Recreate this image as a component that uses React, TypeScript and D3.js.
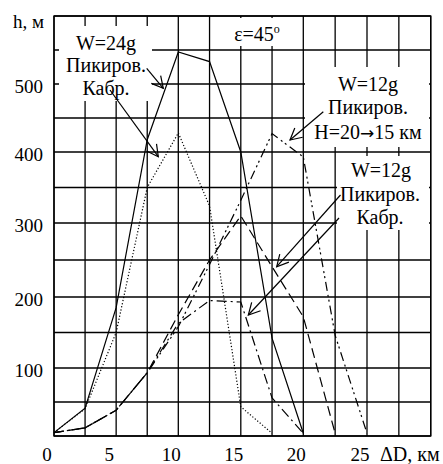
import React from 'react';
import * as d3 from 'd3';

// ΔD, km sample positions
const xSteps = [0, 2.5, 5, 7.5, 10, 12.5, 15, 17.5, 20, 22.5, 25];
// h, m
const w24Dive = [5, 41, 185, 418, 547, 533, 400, 142, 4];
const w24Pitch = [5, 40, 150, 350, 428, 324, 43, 4];
const w12Dive = [5, 12, 38, 93, 175, 250, 310, 241, 172, 4];
const w12Pitch = [5, 12, 38, 93, 163, 195, 193, 56, 4];
const w12DiveH = [5, 12, 38, 93, 158, 244, 332, 427, 393, 146, 4];

const xTicks = [0, 5, 10, 15, 20, 25];
const yTicks = [100, 200, 300, 400, 500];
const xGrid = d3.range(0, 30.001, 2.5);
const yGrid = d3.range(0, 600.001, 50);

const FONT = "'Liberation Serif', 'DejaVu Serif', serif";

export default function App() {
  const x = d3.scaleLinear().domain([0, 10, 20, 30]).range([54, 178.3, 303.3, 430.7]);
  const y = d3
    .scaleLinear()
    .domain([0, 100, 200, 300, 400, 500, 600])
    .range([436, 368, 297, 223, 152, 84, 16]);

  const line = d3
    .line<number>()
    .x((_, i) => x(xSteps[i]))
    .y((d) => y(d));

  const series = [
    { values: w24Dive, dash: undefined },
    { values: w24Pitch, dash: '1.2,2' },
    { values: w12Dive, dash: '10,5' },
    { values: w12Pitch, dash: '10,4,2,4' },
    { values: w12DiveH, dash: '9,4,2,3,2,4' },
  ];

  const boxes = [
    { x0: 59, y0: 26, x1: 152, y1: 101 },
    { x0: 226, y0: 18, x1: 292, y1: 46 },
    { x0: 305, y0: 67, x1: 429, y1: 147 },
    { x0: 337, y0: 156, x1: 429, y1: 230 },
  ];

  const arrows = [
    { x1: 146.7, y1: 68.3, x2: 163.3, y2: 88.3 },
    { x1: 110, y1: 90, x2: 158.3, y2: 156.7 },
    { x1: 323.3, y1: 111.7, x2: 290, y2: 140 },
    { x1: 340.5, y1: 195, x2: 276.7, y2: 266.7 },
    { x1: 339, y1: 218, x2: 248.3, y2: 315 },
  ];

  const labels = [
    { text: 'W=24g', x: 106, y: 50 },
    { text: 'Пикиров.', x: 106, y: 72 },
    { text: 'Кабр.', x: 106, y: 95 },
    { text: 'W=12g', x: 368, y: 91 },
    { text: 'Пикиров.', x: 368, y: 114 },
    { text: 'W=12g', x: 381, y: 177 },
    { text: 'Пикиров.', x: 380, y: 200.5 },
    { text: 'Кабр.', x: 380, y: 223.5 },
  ];

  const head = (a: { x1: number; y1: number; x2: number; y2: number }) => {
    const ang = Math.atan2(a.y1 - a.y2, a.x1 - a.x2);
    const L = 13;
    const s = (28 * Math.PI) / 180;
    const p1 = [a.x2 + L * Math.cos(ang + s), a.y2 + L * Math.sin(ang + s)];
    const p2 = [a.x2 + L * Math.cos(ang - s), a.y2 + L * Math.sin(ang - s)];
    return `M${p1[0]},${p1[1]}L${a.x2},${a.y2}L${p2[0]},${p2[1]}`;
  };

  const [xMin, xMax] = [x(0), x(30)];
  const [yMin, yMax] = [y(600), y(0)];
  const ts = { fontFamily: FONT };

  return (
    <svg
      width={443}
      height={464}
      style={{ position: 'absolute', left: 0, top: 0, background: '#fff' }}
    >
      <rect x={0} y={0} width={443} height={464} fill="#fff" />
      {/* grid */}
      <g stroke="#000" strokeWidth={1.3}>
        {xGrid.map((v) => (
          <line key={'gx' + v} x1={x(v)} x2={x(v)} y1={yMin} y2={yMax} />
        ))}
        {yGrid.map((v) => (
          <line key={'gy' + v} x1={xMin} x2={xMax} y1={y(v)} y2={y(v)} />
        ))}
      </g>
      {/* label boxes */}
      {boxes.map((b, i) => (
        <rect key={'b' + i} x={b.x0} y={b.y0} width={b.x1 - b.x0} height={b.y1 - b.y0} fill="#fff" />
      ))}
      {/* frame */}
      <rect x={xMin} y={yMin} width={xMax - xMin} height={yMax - yMin} fill="none" stroke="#000" strokeWidth={1.4} />
      {/* series */}
      <g fill="none" stroke="#000" strokeWidth={1.2}>
        {series.map((s, i) => (
          <path key={'s' + i} d={line(s.values) || ''} strokeDasharray={s.dash} />
        ))}
      </g>
      {/* arrows */}
      <g fill="none" stroke="#000" strokeWidth={1.2}>
        {arrows.map((a, i) => (
          <g key={'a' + i}>
            <line x1={a.x1} y1={a.y1} x2={a.x2} y2={a.y2} />
            <path d={head(a)} />
          </g>
        ))}
      </g>
      {/* annotation text */}
      <g fontSize={20} textAnchor="middle" fill="#000">
        {labels.map((l, i) => (
          <text key={'l' + i} x={l.x} y={l.y} style={ts}>
            {l.text}
          </text>
        ))}
        <text x={368} y={138.5} style={ts}>
          H=20<tspan style={{ fontFamily: "'DejaVu Sans', sans-serif" }} fontSize={17}>→</tspan>15 км
        </text>
        <text x={257} y={41} style={ts}>
          ε=45<tspan fontSize={12} dy={-8}>o</tspan>
        </text>
      </g>
      {/* axis labels */}
      <g fontSize={19} fill="#000">
        {yTicks.map((v) => (
          <text key={'yt' + v} x={43} y={y(v) + 8.5} textAnchor="end" style={ts}>
            {v}
          </text>
        ))}
        {xTicks.map((v) => (
          <text key={'xt' + v} x={x(v) - 7} y={461} textAnchor="middle" style={ts}>
            {v}
          </text>
        ))}
        <text x={13} y={28} style={ts}>h, м</text>
        <text x={380} y={461} fontSize={20} style={ts}>ΔD, км</text>
      </g>
    </svg>
  );
}
